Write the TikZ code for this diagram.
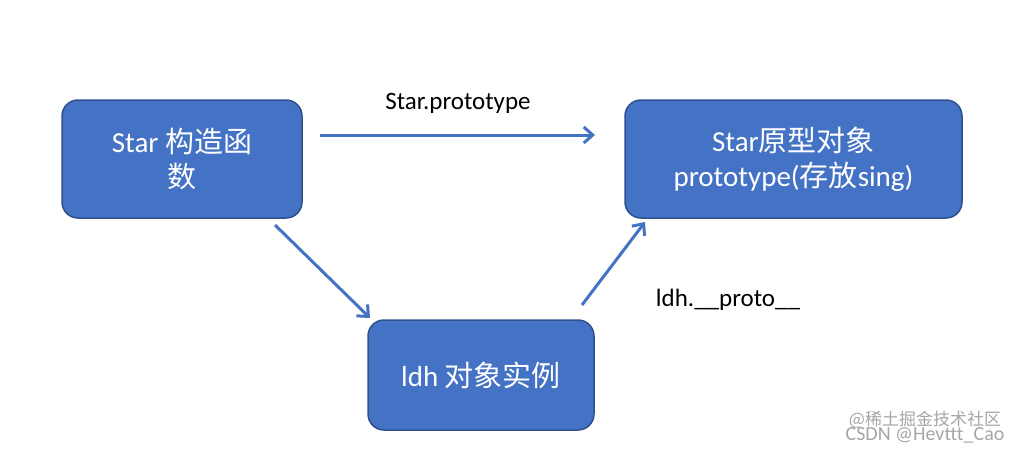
\documentclass[tikz,border=0pt]{standalone}
\usepackage{fontspec}
\setmainfont{Carlito}
\newfontfamily\cjk{Noto Sans CJK SC}
\usetikzlibrary{arrows.meta}
\definecolor{boxfill}{HTML}{4472C4}
\definecolor{boxline}{HTML}{2F528F}
\begin{document}
\begin{tikzpicture}[x=1pt,y=-1pt,
  box/.style={draw=boxline,line width=1.5pt,fill=boxfill,rounded corners=16pt,text=white,font=\fontsize{29}{35}\selectfont,align=center,inner sep=0pt},
  arr/.style={draw=boxfill,line width=3pt,-{Straight Barb[length=9pt,width=16pt,line width=3pt]}},
  lab/.style={font=\fontsize{25}{29}\selectfont}]
\useasboundingbox (0,0) rectangle (1030,452);
\fill[white] (0,0) rectangle (1030,452);
\node[box,minimum width=240pt,minimum height=118pt] (star) at (182,159) {Star {\cjk 构造函}\\{\cjk 数}};
\node[box,minimum width=337pt,minimum height=118pt] (proto) at (793.5,159) {Star{\cjk 原型对象}\\prototype({\cjk 存放}sing)};
\node[box,minimum width=226pt,minimum height=110pt] (ldh) at (481,375) {ldh {\cjk 对象实例}};
\coordinate (a1) at (320,135); \coordinate (a2) at (595,135);
\coordinate (b1) at (275,225); \coordinate (b2) at (370,318);
\coordinate (c1) at (582,305); \coordinate (c2) at (645,222);
\draw[arr] (a1) -- (a2);
\draw[arr] (b1) -- (b2);
\draw[arr] (c1) -- (c2);
\node[lab] (l1) at (458,103) {Star.prototype};
\node[lab] (l2) at (728,300) {ldh.\_\_proto\_\_};
\node[text=black!35,font=\cjk\fontsize{17}{19}\selectfont,anchor=south] (w1) at (925,432) {@稀土掘金技术社区};
\node[text=black!35,font=\fontsize{20}{22}\selectfont,anchor=north] (w2) at (925,424) {CSDN @Hevttt\_Cao};
\end{tikzpicture}
\end{document}
